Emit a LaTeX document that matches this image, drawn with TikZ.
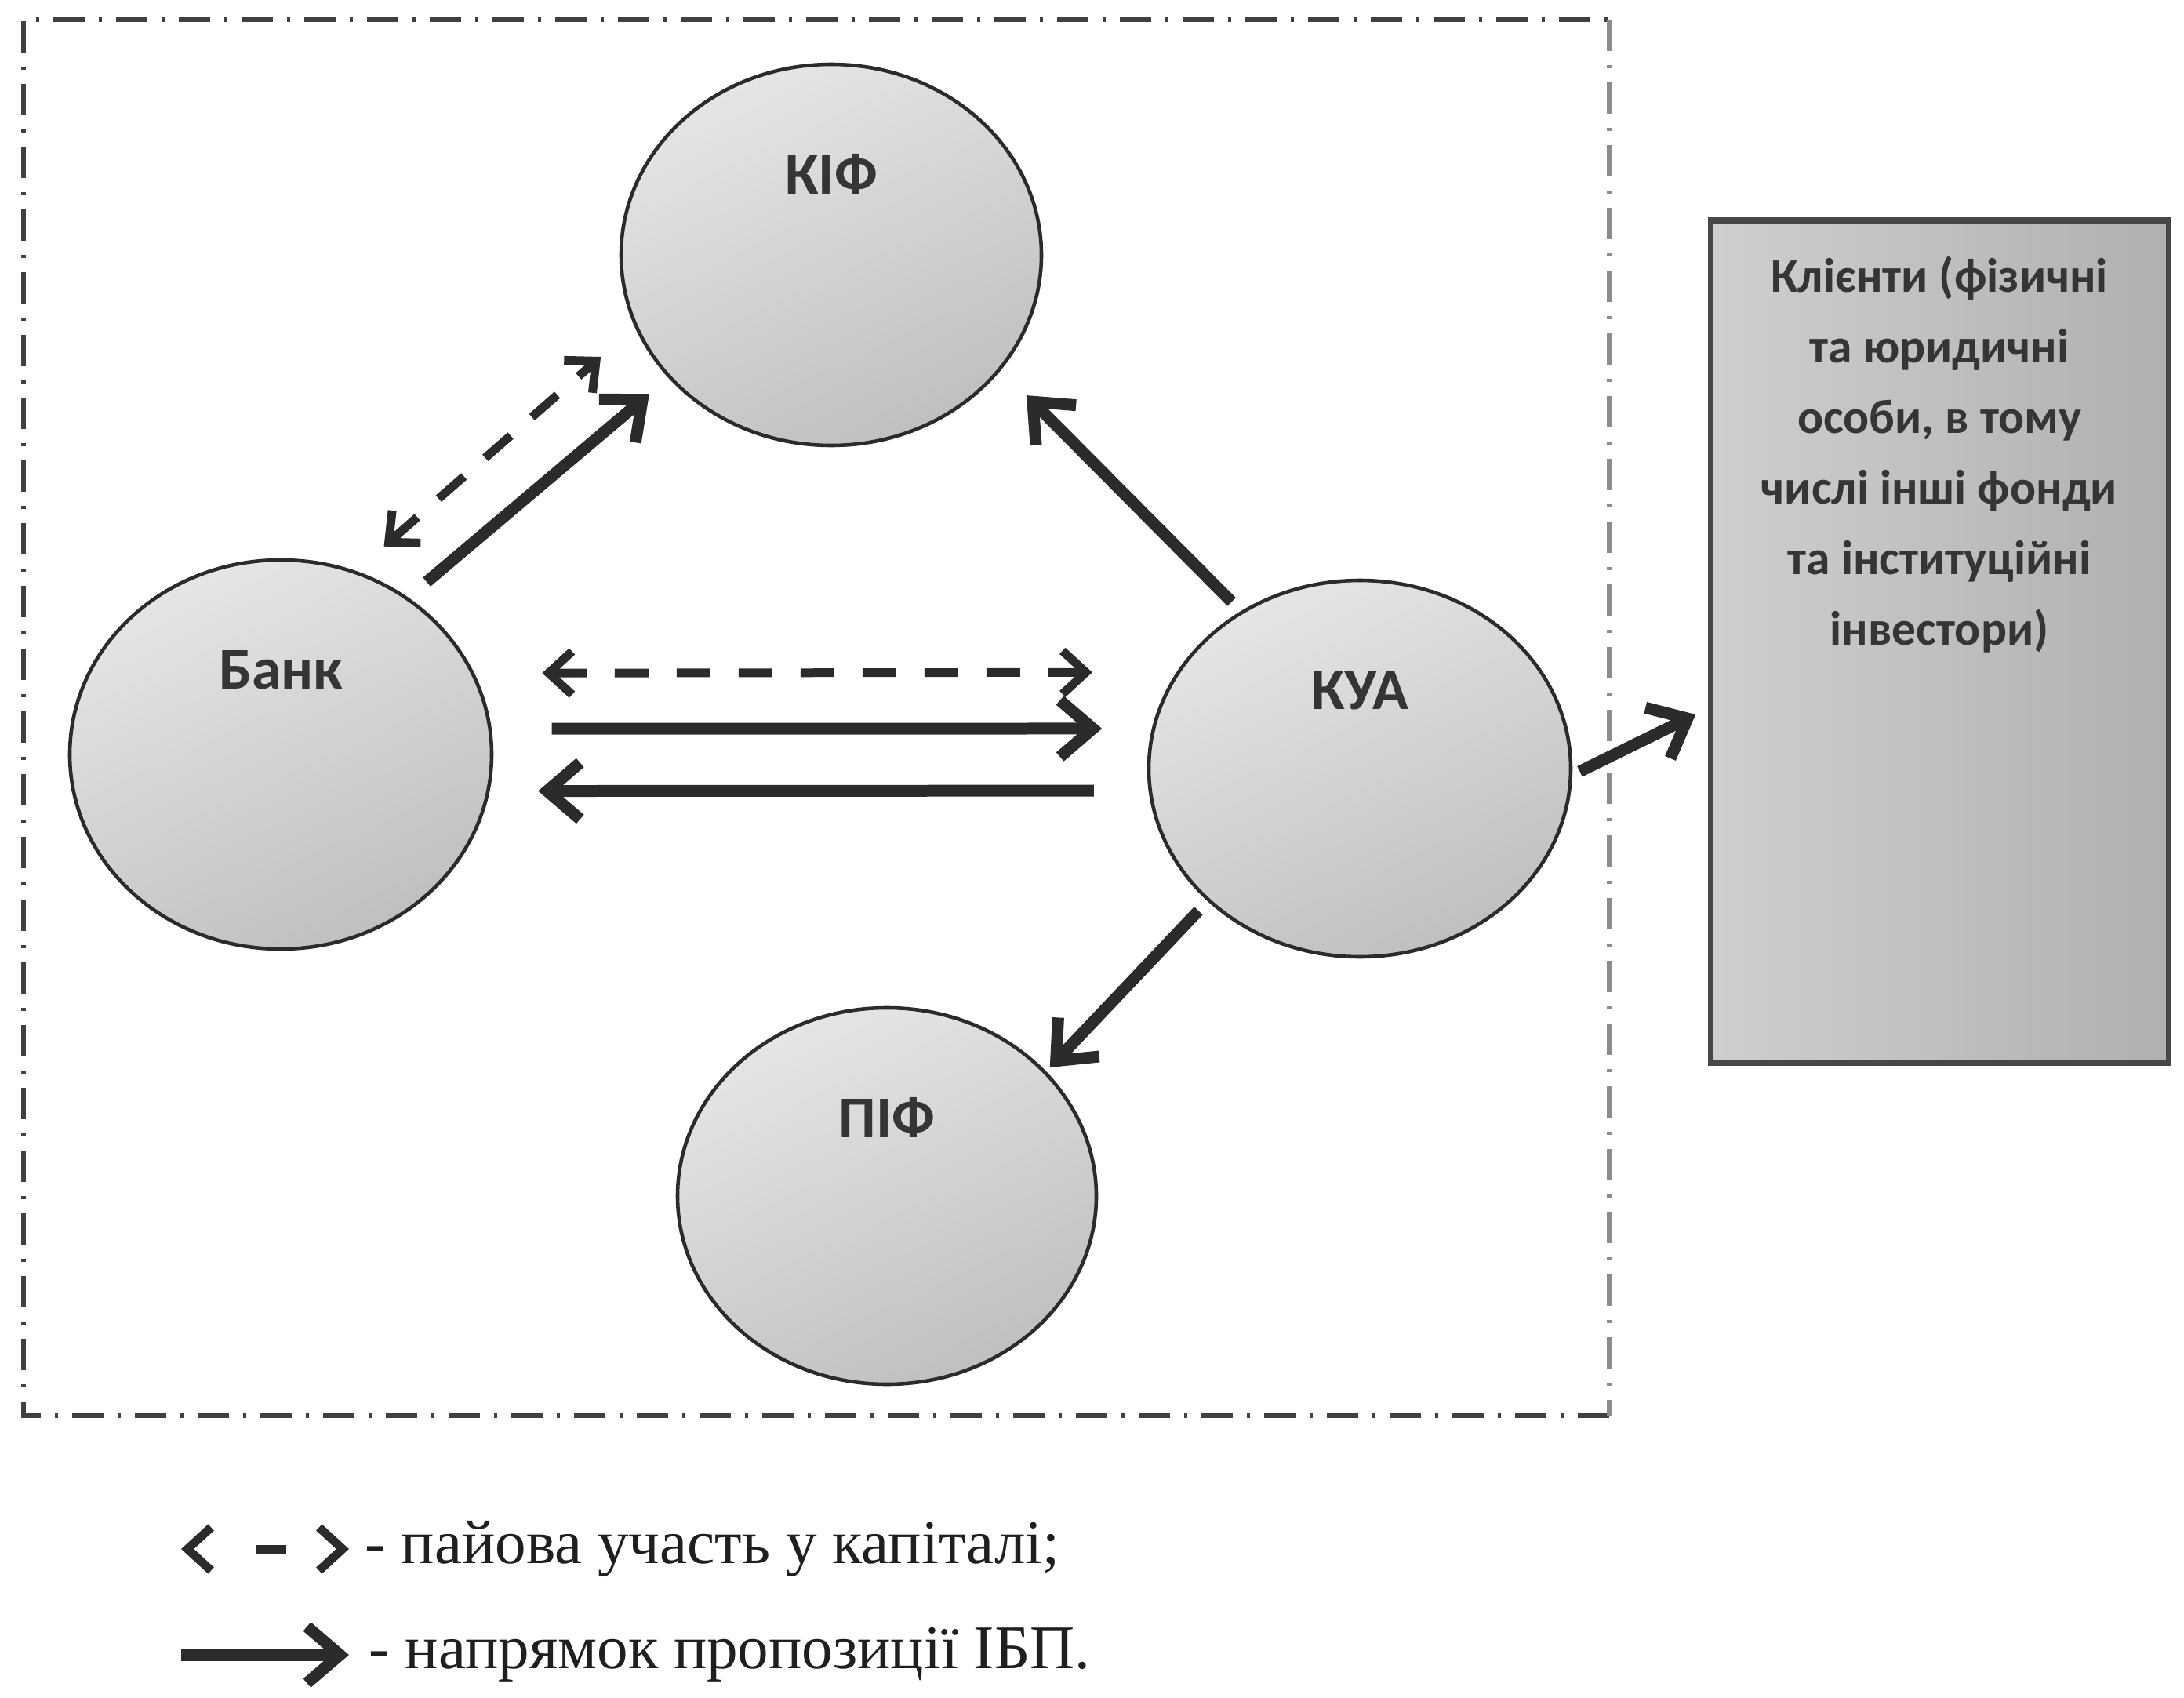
\documentclass[tikz,border=0pt]{standalone}
\usepackage{fontspec}
\setmainfont{Liberation Serif}
\newfontfamily\labelfont{Carlito}
\usetikzlibrary{arrows.meta,shapes.geometric}
\definecolor{inkgray}{HTML}{2C2A2B}
\definecolor{tagcolor}{HTML}{353535}
\tikzset{
  fund/.style={ellipse,draw=inkgray,line width=1.3pt,top color=black!10,bottom color=black!25,shading angle=25,inner sep=0pt,outer sep=0pt},
  client/.style={rectangle,draw=black!72,line width=2pt,left color=black!19,right color=black!31,inner sep=0pt,outer sep=0pt},
  tag/.style={font=\labelfont\bfseries\fontsize{21.5}{26}\selectfont,text=tagcolor,anchor=center,label distance=-1.4cm},
  boxtext/.style={font=\labelfont\bfseries\fontsize{17.5}{25.6}\selectfont,text=tagcolor,align=center,anchor=north,inner sep=0pt,label distance=-0.45cm},
  key/.style={font=\fontsize{22.5}{27}\selectfont,text=black!88,inner sep=0pt,anchor=west},
  ipb/.style={draw=inkgray,line width=0.15cm,-{Straight Barb[length=0.42cm,width=0.72cm]}},
  share/.style={draw=inkgray,line width=0.11cm,dash pattern=on 0.43cm off 0.36cm,{Straight Barb[length=0.3cm,width=0.55cm]}-{Straight Barb[length=0.3cm,width=0.55cm]}},
  frame/.style={line width=1.6pt,dash pattern=on 0.4cm off 0.18cm on 0.04cm off 0.18cm}
}
\begin{document}
\begin{tikzpicture}
\useasboundingbox (0,0) rectangle (27.85,-21.65);

\draw[frame,black!75] (20.52,-18.05) -| (0.30,-0.25) -- (20.52,-0.25);
\draw[frame,black!45] (20.52,-0.25) -- (20.52,-18.05);

\node[fund,minimum width=5.36cm,minimum height=4.86cm,label={[tag]north:КІФ}] (kif) at (10.60,-3.25) {};
\node[fund,minimum width=5.38cm,minimum height=4.96cm,label={[tag]north:Банк}] (bank) at (3.58,-9.62) {};
\node[fund,minimum width=5.38cm,minimum height=4.80cm,label={[tag]north:КУА}] (kua) at (17.34,-9.80) {};
\node[fund,minimum width=5.34cm,minimum height=4.80cm,label={[tag]north:ПІФ}] (pif) at (11.31,-15.25) {};
\node[client,minimum width=5.84cm,minimum height=10.74cm,label={[boxtext]north:Клієнти (фізичні\\та юридичні\\особи, в тому\\числі інші фонди\\та інституційні\\інвестори)}] (clients) at (24.73,-8.18) {};

\draw[share,shorten <=0.5cm,shorten >=0.6cm] (bank.68) -- (kif.200);
\draw[ipb,shorten <=0.33cm,shorten >=0.34cm] (bank.51) -- (kif.217);
\draw[share,shorten <=0.89cm,shorten >=1.10cm] (bank.23) -- (kua.152);
\draw[ipb,shorten <=0.79cm,shorten >=0.66cm] (bank.7) -- (kua.169);
\draw[ipb,shorten <=0.72cm,shorten >=0.64cm] (kua.186) -- (bank.350);
\draw[ipb,shorten <=0.19cm,shorten >=0.48cm] (kua.127) -- (kif.326);
\draw[ipb,shorten <=0.19cm,shorten >=0.09cm] (kua.221) -- (pif.38);
\draw[ipb,shorten <=0.13cm,shorten >=0.21cm] (kua.358) -- (clients.196);

\node[key] (key1) at (4.65,-19.75) {- пайова участь у капіталі;};
\node[key] (key2) at (4.70,-21.10) {- напрямок пропозиції ІБП.};
\coordinate (s1) at (2.31,-19.75);
\coordinate (s2) at (2.31,-21.10);
\draw[share,dash pattern=on 0pt off 0.82cm on 0.38cm off 3cm] (s1) -- ([xshift=-0.2cm]key1.west);
\draw[ipb] (s2) -- ([xshift=-0.25cm]key2.west);

\end{tikzpicture}
\end{document}
